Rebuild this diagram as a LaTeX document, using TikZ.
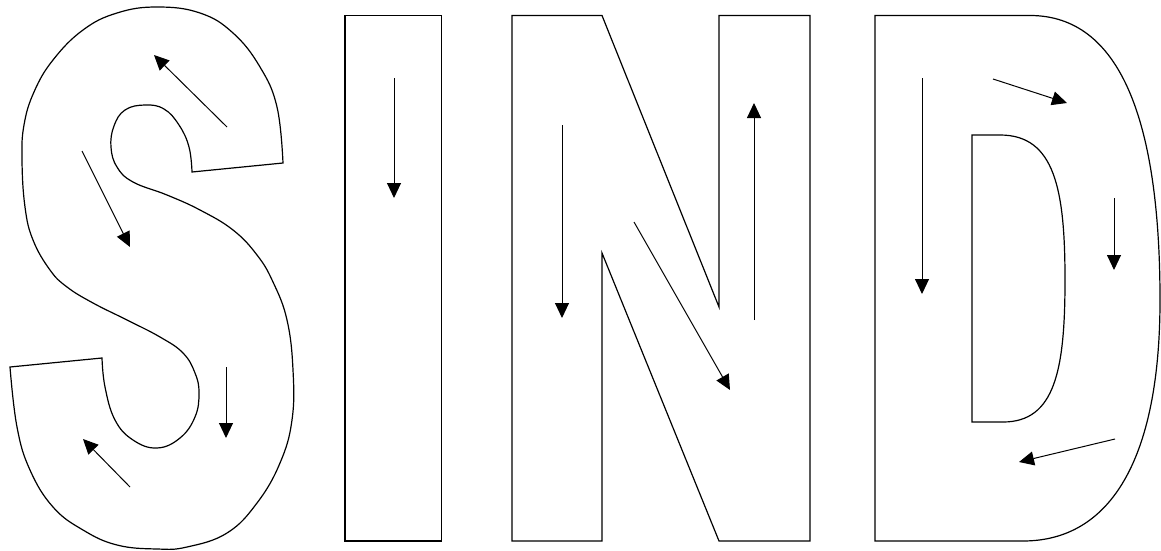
\documentclass[tikz,border=0pt]{standalone}
\usetikzlibrary{arrows.meta}
\begin{document}
\begin{tikzpicture}[x=1pt,y=-1pt,
  outline/.style={draw=black,line width=1.2pt,line join=miter},
  stroke/.style={draw=black,line width=1pt,-{Triangle[length=15pt,width=14pt]}}]
\useasboundingbox (0,0) rectangle (1161,551);
% ---------- S ----------
\draw[outline] (283,163) -- (192,172)
  -- plot[smooth,tension=0.7] coordinates {(192,172) (189,147) (179,125) (164,109) (145,105) (125,110) (114,126) (111,147) (117,167) (133,182) (167,195) (200,210) (233,230) (257,255) (273,282) (287,320) (293,370) (292,420) (280,463) (257,503) (227,533) (187,547) (157,549) (117,545) (83,530) (53,507) (30,470) (17,427) (10,367)}
  -- (102,358)
  -- plot[smooth,tension=0.7] coordinates {(102,358) (105,387) (115,420) (133,440) (157,448) (180,438) (195,417) (199,393) (195,373) (183,353) (160,337) (127,320) (93,303) (67,287) (50,270) (33,240) (25,207) (22,160) (24,125) (34,92) (53,60) (83,30) (117,13) (157,7) (200,13) (233,33) (260,67) (277,107) (283,163)}
  -- cycle;
\coordinate (s1a) at (227,127); \coordinate (s1b) at (154,55);
\coordinate (s2a) at (82,151);  \coordinate (s2b) at (130,247);
\coordinate (s3a) at (226,367); \coordinate (s3b) at (226,438);
\coordinate (s4a) at (130,487); \coordinate (s4b) at (83,439);
\draw[stroke] (s1a) -- (s1b);
\draw[stroke] (s2a) -- (s2b);
\draw[stroke] (s3a) -- (s3b);
\draw[stroke] (s4a) -- (s4b);
% ---------- I ----------
\draw[outline] (345,15.5) rectangle (441.5,541);
\coordinate (i1a) at (394,78); \coordinate (i1b) at (394,198);
\draw[stroke] (i1a) -- (i1b);
% ---------- N ----------
\draw[outline] (512,15.5) -- (602,15.5) -- (719,307) -- (719,15.5) -- (810,15.5)
  -- (810,541) -- (719,541) -- (602,253) -- (602,541) -- (512,541) -- cycle;
\coordinate (n1a) at (562,125); \coordinate (n1b) at (562,318);
\coordinate (n2a) at (634,222); \coordinate (n2b) at (730,390);
\coordinate (n3a) at (754,320); \coordinate (n3b) at (754,103);
\draw[stroke] (n1a) -- (n1b);
\draw[stroke] (n2a) -- (n2b);
\draw[stroke] (n3a) -- (n3b);
% ---------- D ----------
\draw[outline] (875,15.5) -- (1030,15.5)
  .. controls (1120,15.5) and (1160,120) .. (1160,300)
  .. controls (1160,460) and (1110,541) .. (1023,541)
  -- (875,541) -- cycle;
\draw[outline] (972,135) -- (1000,135)
  .. controls (1055,135) and (1065,190) .. (1065,280)
  .. controls (1065,370) and (1055,422) .. (1003,422)
  -- (972,422) -- cycle;
\coordinate (d1a) at (922,78);  \coordinate (d1b) at (922,294);
\coordinate (d2a) at (993,79);  \coordinate (d2b) at (1067,103);
\coordinate (d3a) at (1114,198); \coordinate (d3b) at (1114,270);
\coordinate (d4a) at (1115,439); \coordinate (d4b) at (1019,462);
\draw[stroke] (d1a) -- (d1b);
\draw[stroke] (d2a) -- (d2b);
\draw[stroke] (d3a) -- (d3b);
\draw[stroke] (d4a) -- (d4b);
\end{tikzpicture}
\end{document}
